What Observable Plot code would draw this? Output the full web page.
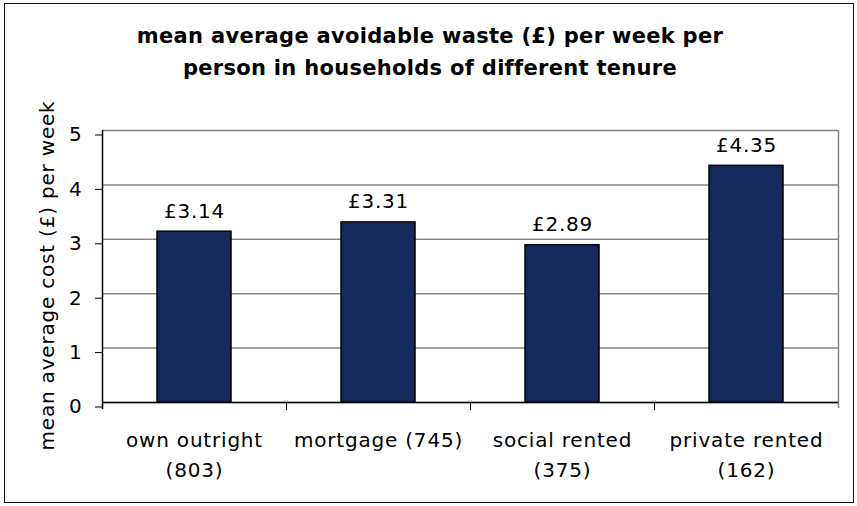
<!DOCTYPE html>
<html>
<head>
<meta charset="utf-8">
<script src="https://cdn.jsdelivr.net/npm/d3@7"></script>
<script src="https://cdn.jsdelivr.net/npm/@observablehq/plot@0.6"></script>
<style>
  html, body { margin: 0; padding: 0; background: #fff; }
  #wrap { position: relative; width: 857px; height: 506px; overflow: hidden; background: #fff; }
  #border { position: absolute; left: 4px; top: 3px; width: 850px; height: 500px; border: 1px solid #111; box-sizing: border-box; }
  #title { position: absolute; left: 4px; width: 852px; top: 20px; text-align: center;
           font-family: "DejaVu Sans", Verdana, sans-serif; font-weight: bold; font-size: 21px;
           line-height: 32px; letter-spacing: 0.3px; color: #000; }
  #chart { position: absolute; left: 0; top: 0; }
</style>
</head>
<body>
<div id="wrap">
  <div id="border"></div>
  <div id="chart"></div>
  <div id="title">mean average avoidable waste (£) per week per<br>person in households of different tenure</div>
</div>
<script>
const categories = ["own outright", "mortgage", "social rented", "private rented"];
const tickLabels = ["own outright\n(803)", "mortgage (745)", "social rented\n(375)", "private rented\n(162)"];
const values = [3.14, 3.31, 2.89, 4.35];
const yDomain = [0, 5];
const yTicks = [0, 1, 2, 3, 4, 5];
const yLabel = "mean average cost (£) per week";

const data = categories.map((c, i) => ({cat: c, value: values[i], label: tickLabels[i]}));

const W = 857, H = 506;
const mL = 102, mR = 19, mT = 130, mB = 104;
const halfStep = (W - mL - mR) / categories.length / 2;

const chart = Plot.plot({
  width: W,
  height: H,
  marginLeft: mL,
  marginRight: mR,
  marginTop: mT,
  marginBottom: mB,
  style: {fontFamily: "DejaVu Sans, Verdana, sans-serif", fontSize: "20px", letterSpacing: "0.8px", color: "#000", background: "transparent"},
  x: {domain: categories, paddingInner: 0.6, paddingOuter: 0.3, axis: null},
  y: {domain: yDomain, axis: null},
  marks: [
    Plot.gridY(yTicks, {stroke: "#858585", strokeOpacity: 1, strokeWidth: 1.5}),
    // right plot-area border (grey)
    Plot.ruleX([categories[categories.length - 1]], {x: d => d, dx: halfStep, y1: yDomain[1], y2: yDomain[0], insetBottom: -6, stroke: "#858585", strokeWidth: 1.5}),
    Plot.barY(data, {x: "cat", y: "value", fill: "#132b5b", stroke: "#000", strokeWidth: 1.5}),
    // category boundary ticks below the axis
    Plot.ruleX(categories.slice(1), {x: d => d, dx: -halfStep, y1: 0, y2: 0, insetBottom: -8, stroke: "#000", strokeWidth: 1}),
    // left axis line
    Plot.ruleX([categories[0]], {x: d => d, dx: -halfStep, y1: yDomain[1], y2: yDomain[0], insetBottom: -7, stroke: "#000", strokeWidth: 1.5}),
    Plot.ruleY([0], {stroke: "#000", strokeWidth: 1.5}),
    Plot.axisY(yTicks, {tickSize: 7, tickPadding: 13, dy: 4.5, fontSize: 20, tickFormat: d => String(d), label: null}),
    Plot.text(data, {x: "cat", y: "value", text: d => "£" + d.value.toFixed(2), lineAnchor: "bottom", dy: -14, fontSize: 20, fill: "#000"}),
    Plot.text(data, {x: "cat", frameAnchor: "bottom", text: "label", lineAnchor: "top", lineHeight: 1.5, dy: 23, fontSize: 20, fill: "#000"}),
    Plot.text([yLabel], {frameAnchor: "left", text: d => d, rotate: -90, textAnchor: "middle", lineAnchor: "bottom", dx: -49, dy: 9, fontSize: 20, letterSpacing: "0.5px", fill: "#000"})
  ]
});
document.getElementById("chart").appendChild(chart);
</script>
</body>
</html>
